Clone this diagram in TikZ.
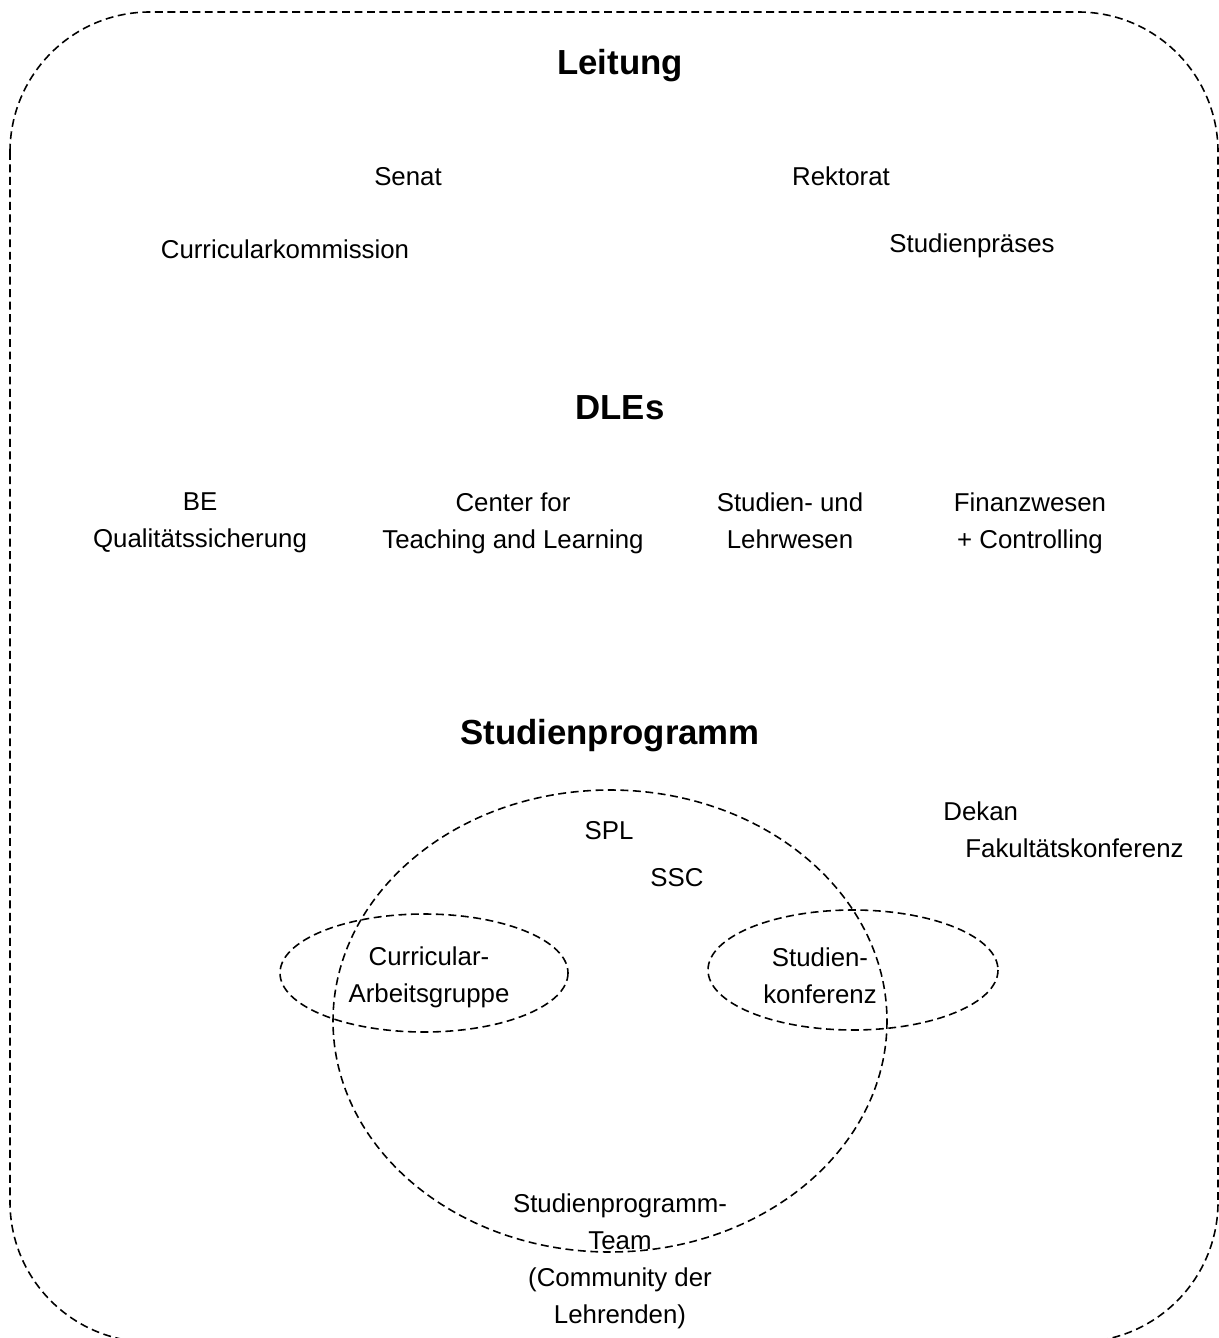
\documentclass[tikz,border=0pt]{standalone}
\usepackage{fontspec}
\setmainfont{Liberation Sans}
\usetikzlibrary{positioning}

\begin{document}
\begin{tikzpicture}[x=0.02cm, y=-0.02cm,
		txt/.style={inner sep=0pt, align=center, font=\fontsize{14.7}{21}\selectfont},
		head/.style={inner sep=0pt, font=\fontsize{19.8}{24}\selectfont\bfseries},
		dashline/.style={dash pattern=on 4.5pt off 2.6pt, line width=0.9pt}]
		\useasboundingbox (0,0) rectangle (1219,1338);

		\draw[dashline, rounded corners=2.8cm] (10,12) rectangle (1218,1342);

		\draw (620,66) node [head] (leitung) {Leitung};
		\draw (408,177) node [txt] (senat) {Senat};
		\draw (841,176) node [txt] (rektorat) {Rektorat};
		\draw (285,249) node [txt] (ck) {Curricularkommission};
		\draw (972,246) node [txt] (praeses) {Studienpräses};

		\draw (620,408) node [head] (dles) {DLEs};
		\draw (200,523) node [txt] (be) {BE\\Qualitätssicherung};
		\draw (513,523) node [txt] (ctl) {Center for\\Teaching and Learning};
		\draw (790,521) node [txt] (slw) {Studien- und\\Lehrwesen};
		\draw (1030,523) node [txt] (fin) {Finanzwesen\\+ Controlling};

		\draw (610,736) node [head] (sp) {Studienprogramm};
		\draw (609,831) node [txt] (spl) {SPL};
		\draw (677,878) node [txt] (ssc) {SSC};
		\draw (943,811) node [txt, anchor=west] (dekan) {Dekan};
		\draw (965,848) node [txt, anchor=west] (fk) {Fakultätskonferenz};

		\draw[dashline] (610,1021) ellipse [x radius=277, y radius=231];
		\draw[dashline] (424,973) ellipse [x radius=144, y radius=59];
		\draw[dashline] (853,970) ellipse [x radius=145, y radius=60];

		\draw (429,977) node [txt] (cag) {Curricular-\\Arbeitsgruppe};
		\draw (820,976) node [txt] (sk) {Studien-\\konferenz};
		\draw (620,1261) node [txt] (team) {Studienprogramm-\\Team\\(Community der\\Lehrenden)};
	\end{tikzpicture}
\end{document}
